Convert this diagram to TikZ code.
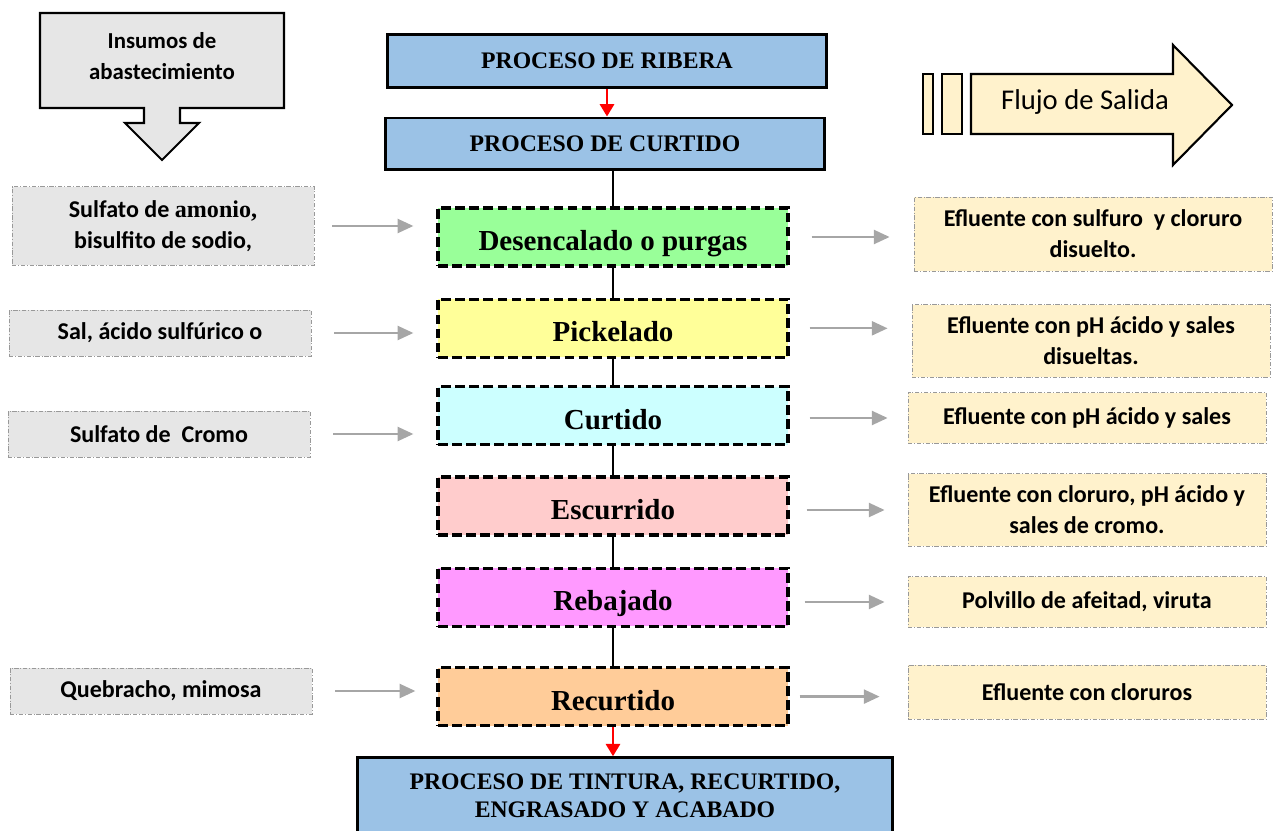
\documentclass[tikz,border=0pt]{standalone}
\usepackage{fontspec}
\setmainfont{Liberation Serif}
\newfontfamily\calibfont{Carlito}
\usetikzlibrary{positioning}
\usetikzlibrary{arrows.meta}
\usetikzlibrary{shapes}

\definecolor{procblue}{HTML}{9BC2E6}
\definecolor{greenstage}{HTML}{99FF99}
\definecolor{yellowstage}{HTML}{FFFF99}
\definecolor{cyanstage}{HTML}{CCFFFF}
\definecolor{pinkstage}{HTML}{FFCCCC}
\definecolor{magentastage}{HTML}{FF99FF}
\definecolor{orangestage}{HTML}{FFCC99}
\definecolor{inputgray}{HTML}{E6E6E6}
\definecolor{outcream}{HTML}{FFF2CC}

\begin{document}
\begin{tikzpicture}[x=0.02cm, y=-0.02cm,
    proc/.style={draw=black, line width=1.7pt, fill=procblue, align=center,
    inner sep=0pt, font=\bfseries\fontsize{13.5}{16}\selectfont},
    stage/.style={draw=black, line width=1.9pt, dash pattern=on 5.5pt off 2.5pt,
    align=center, inner sep=0pt, minimum width=7cm, minimum height=1.16cm,
    text height=15.5pt, text depth=0pt,
    font=\bfseries\fontsize{16.5}{20}\selectfont},
    input/.style={draw=black!40, fill=inputgray, line width=0.5pt,
    dash pattern=on 2.5pt off 1pt on 0.5pt off 1pt, align=center, inner sep=0pt,
    minimum width=6.04cm, minimum height=0.92cm,
    font=\calibfont\bfseries\fontsize{13.7}{17.6}\selectfont},
    output/.style={draw=black!40, fill=outcream, line width=0.5pt,
    dash pattern=on 2.5pt off 1pt on 0.5pt off 1pt, align=center, inner sep=0pt,
    minimum width=7.16cm, minimum height=1.02cm,
    font=\calibfont\bfseries\fontsize{13.7}{17.6}\selectfont},
    feed/.style={draw=black!35, line width=1.3pt,
    -{Triangle[length=9pt,width=8pt]}},
    link/.style={draw=black, line width=1.7pt},
    redarrow/.style={draw=red, line width=1.5pt,
    -{Triangle[length=7pt,width=8pt]}}]
\useasboundingbox (0,0) rectangle (1275,831);

% legend arrows
\draw[fill=inputgray, line width=1.2pt] (40,13) -- (284,13) -- (284,108)
    -- (180,108) -- (180,123) -- (199,123) -- (162,160) -- (125,123)
    -- (144,123) -- (144,108) -- (40,108) -- cycle;
\node[align=center, font=\calibfont\bfseries\fontsize{13}{17.6}\selectfont]
    (insumos) at (162,56) {Insumos de\\abastecimiento};
\draw[fill=outcream, line width=1.2pt] (923,74) rectangle (933,134);
\draw[fill=outcream, line width=1.2pt] (942,74) rectangle (962,134);
\draw[fill=outcream, line width=1.2pt] (971,74) -- (1173,74) -- (1173,45)
    -- (1232,105) -- (1173,165) -- (1173,134) -- (971,134) -- cycle;
\node[font=\calibfont\fontsize{16.3}{20}\selectfont] (salida) at (1085,102)
    {Flujo de Salida};

% main chain
\node[proc, minimum width=8.78cm, minimum height=1.06cm] (ribera) at (607,61)
    {PROCESO DE RIBERA};
\node[proc, minimum width=8.78cm, minimum height=1.04cm] (curtproc) at (605,144)
    {PROCESO DE CURTIDO};
\node[stage, fill=greenstage] (desenc) at (613,237) {Desencalado o purgas};
\node[stage, fill=yellowstage] (pickel) [below=0.6cm of desenc] {Pickelado};
\node[stage, fill=cyanstage] (curtido) [below=0.52cm of pickel] {Curtido};
\node[stage, fill=pinkstage] (escurr) [below=0.58cm of curtido] {Escurrido};
\node[stage, fill=magentastage] (rebaj) [below=0.6cm of escurr] {Rebajado};
\node[stage, fill=orangestage] (recurt) [below=0.76cm of rebaj] {Recurtido};
\node[proc, minimum width=10.72cm, minimum height=1.52cm] (acabado)
    [xshift=0.24cm, below=0.58cm of recurt]
    {PROCESO DE TINTURA, RECURTIDO,\\ENGRASADO Y ACABADO};

% inputs
\node[input, minimum height=1.58cm] (in1) at (163,226)
    {Sulfato de {\rmfamily amonio,}\\bisulfito de sodio,};
\node[input] (in2) at (160,333) {Sal, ácido sulfúrico o};
\node[input] (in3) at (159,434) {Sulfato de~ Cromo};
\node[input] (in4) at (161,691) {Quebracho, mimosa};

% outputs
\node[output, minimum height=1.48cm] (out1) at (1093,234)
    {Efluente con sulfuro~ y cloruro\\disuelto.};
\node[output, minimum height=1.46cm] (out2) at (1091,341)
    {Efluente con pH ácido y sales\\disueltas.};
\node[output] (out3) at (1087,418) {Efluente con pH ácido y sales};
\node[output, minimum height=1.46cm] (out4) at (1087,510)
    {Efluente con cloruro, pH ácido y\\sales de cromo.};
\node[output] (out5) at (1087,602) {Polvillo de afeitad, viruta};
\node[output, minimum height=1.08cm] (out6) at (1087,692)
    {Efluente con cloruros};

\draw[redarrow] (ribera.south) -- (ribera.south |- curtproc.north);
\draw[link] (curtproc.south -| desenc.north) -- (desenc.north);
\draw[link] (desenc) -- (pickel);
\draw[link] (pickel) -- (curtido);
\draw[link] (curtido) -- (escurr);
\draw[link] (escurr) -- (rebaj);
\draw[link] (rebaj) -- (recurt);
\draw[redarrow] (recurt.south) -- (recurt.south |- acabado.north);

\draw[feed, shorten <=0.36cm, shorten >=0.46cm] (in1.east) -- (in1.east -| desenc.west);
\draw[feed, shorten <=0.46cm, shorten >=0.46cm] (in2.east) -- (in2.east -| pickel.west);
\draw[feed, shorten <=0.46cm, shorten >=0.46cm] (in3.east) -- (in3.east -| curtido.west);
\draw[feed, shorten <=0.46cm, shorten >=0.42cm] (in4.east) -- (in4.east -| recurt.west);

\draw[feed, shorten <=0.44cm, shorten >=0.48cm] (desenc.east) -- (desenc.east -| out1.west);
\draw[feed, shorten <=0.4cm, shorten >=0.48cm] (pickel.east) -- (pickel.east -| out2.west);
\draw[feed, shorten <=0.4cm, shorten >=0.4cm] (out3.west -| curtido.east) -- (out3.west);
\draw[feed, shorten <=0.34cm, shorten >=0.46cm] (out4.west -| escurr.east) -- (out4.west);
\draw[feed, shorten <=0.3cm, shorten >=0.46cm] (out5.west -| rebaj.east) -- (out5.west);
\draw[feed, shorten <=0.2cm, shorten >=0.56cm] (recurt.east) -- (recurt.east -| out6.west);
\end{tikzpicture}
\end{document}
